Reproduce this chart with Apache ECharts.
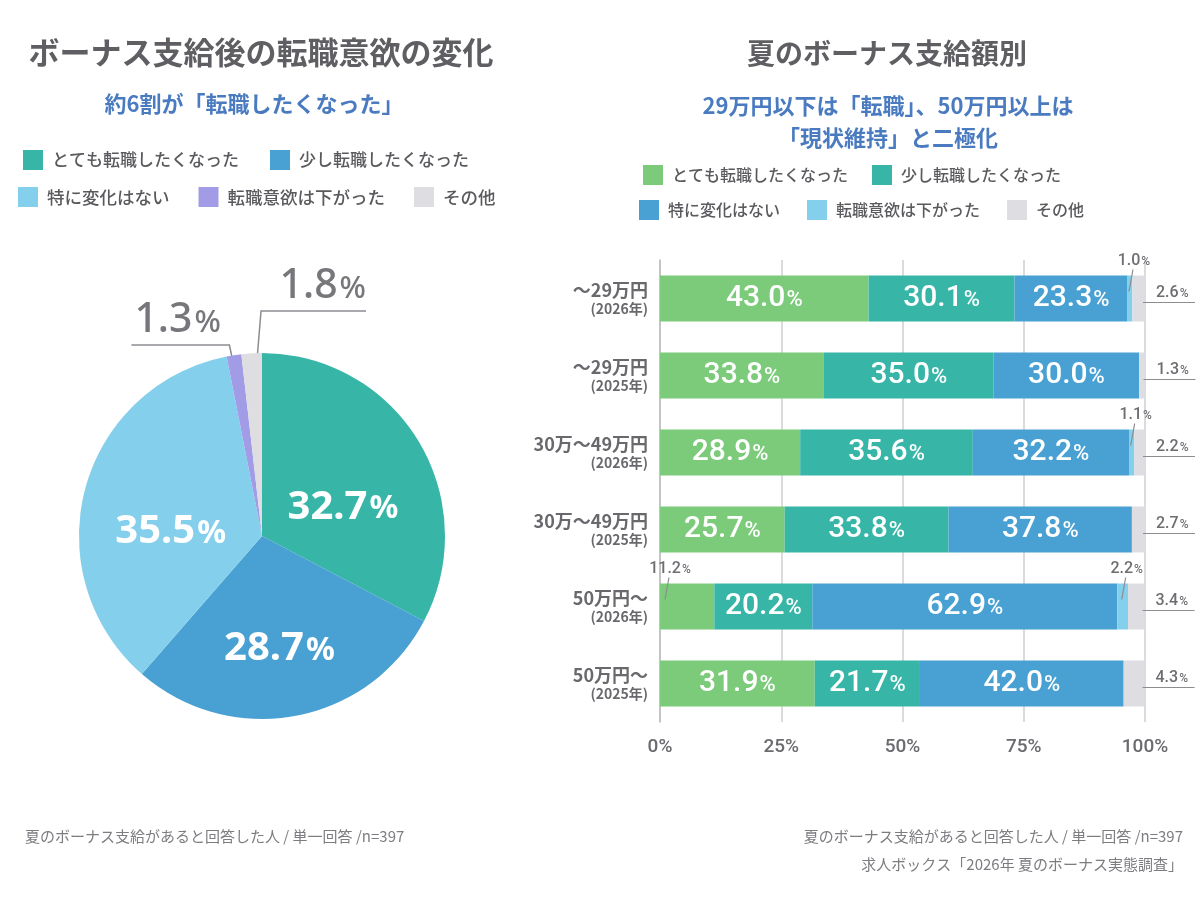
<!DOCTYPE html>
<html>
<head>
<meta charset="utf-8">
<script src="https://cdn.jsdelivr.net/npm/echarts@6/dist/echarts.min.js"></script>
<style>
  html, body { margin: 0; padding: 0; background: #fff; }
  #main { width: 1200px; height: 900px; }
</style>
</head>
<body>
<div id="main"></div>
<script type="text/javascript">
// 回答の区分
var answerNames = ['とても転職したくなった', '少し転職したくなった', '特に変化はない', '転職意欲は下がった', 'その他'];

// 左：全体（円グラフ）
var pieValues = [32.7, 28.7, 35.5, 1.3, 1.8];
var pieColors = ['#37b6a8', '#48a1d2', '#84cfeb', '#a29ce6', '#dedde2'];

// 右：支給額別（帯グラフ）
var rangeLabels = ['～29万円', '～29万円', '30万～49万円', '30万～49万円', '50万円～', '50万円～'];
var yearLabels = ['(2026年)', '(2025年)', '(2026年)', '(2025年)', '(2026年)', '(2025年)'];
var veryValues   = [43.0, 33.8, 28.9, 25.7, 11.2, 31.9];
var littleValues = [30.1, 35.0, 35.6, 33.8, 20.2, 21.7];
var noneValues   = [23.3, 30.0, 32.2, 37.8, 62.9, 42.0];
var downValues   = [1.0, 0, 1.1, 0, 2.2, 0];
var otherValues  = [2.6, 1.3, 2.2, 2.7, 3.4, 4.3];
var barColors = ['#7ccb7b', '#37b6a8', '#48a1d2', '#84cfeb', '#dedde2'];
var xTicks = [0, 25, 50, 75, 100];

var JP = '"Noto Sans CJK JP", "Noto Sans", sans-serif';
var NUM = 'Roboto, "Noto Sans", sans-serif';
var GRAY = '#5f5f63';
var LABEL_GRAY = '#6e6d72';
var LINE_GRAY = '#8d8c91';

var myChart = echarts.init(document.getElementById('main'));

// 円グラフの位置
var PIE_CX = 262, PIE_CY = 536, PIE_R = 183;

// 円グラフのラベル
function pieLabel(v) {
	if (v >= 5) {
		return {
			show: true, position: 'inside',
			formatter: '{n|' + v.toFixed(1) + '}{p|%}',
			rich: {
				n: { fontFamily: '"Noto Sans", sans-serif', fontSize: 40, fontWeight: 'bold', color: '#fff' },
				p: { fontFamily: '"Noto Sans", sans-serif', fontSize: 32, fontWeight: 'bold', color: '#fff', padding: [4, 0, 0, 2] }
			}
		};
	}
	return {
		show: true, position: 'outside',
		formatter: '{n|' + v.toFixed(1) + '}{p|%}',
		rich: {
			n: { fontFamily: '"Noto Sans", sans-serif', fontSize: 41, fontWeight: 500, color: '#77767b' },
			p: { fontFamily: '"Noto Sans", sans-serif', fontSize: 31, fontWeight: 500, color: '#77767b', padding: [6, 0, 0, 2] }
		}
	};
}

var pieData = pieValues.map(function (v, i) {
	return {
		name: answerNames[i],
		value: v,
		itemStyle: { color: pieColors[i] },
		label: pieLabel(v),
		labelLine: { show: v < 5 }
	};
});

function pieLabelLayout(params) {
	var i = params.dataIndex;
	var v = pieValues[i];
	if (v >= 5) return { dy: 20 };
	var total = 0, start = 0, smallOrder = 0;
	pieValues.forEach(function (x, k) {
		total += x;
		if (k < i) start += x;
		if (k < i && x < 5) smallOrder++;
	});
	var theta = (start + v / 2) / total * Math.PI * 2;
	var r = PIE_R * 0.77;
	var ax = PIE_CX + r * Math.sin(theta);
	var ay = PIE_CY - r * Math.cos(theta);
	if (smallOrder % 2 === 0) {
		// 左へ
		var ex = ax - 11, ey = PIE_CY - PIE_R - 8;
		return {
			x: ex - 95, y: ey - 4, align: 'left', verticalAlign: 'bottom',
			labelLinePoints: [[ax, ay], [ex, ey], [ex - 98, ey]]
		};
	}
	var gx = ax + 7, gy = PIE_CY - PIE_R - 42;
	return {
		x: gx + 105, y: gy - 4, align: 'right', verticalAlign: 'bottom',
		labelLinePoints: [[ax, ay], [gx, gy], [gx + 105, gy]]
	};
}

// 帯グラフのラベル（幅の広い区分だけ帯の中）
var INSIDE_MIN = 15;
var BAR_W = 46;
function barLabel(v) {
	if (v < INSIDE_MIN) return { show: false };
	return {
		show: true, position: 'inside',
		formatter: '{n|' + v.toFixed(1) + '}{p|%}',
		rich: {
			n: { fontFamily: NUM, fontSize: 30, fontWeight: 500, color: '#fff' },
			p: { fontFamily: NUM, fontSize: 22, fontWeight: 500, color: '#fff', padding: [3, 0, 0, 1] }
		}
	};
}

var seriesValues = [veryValues, littleValues, noneValues, downValues, otherValues];
var barSeriesList = seriesValues.map(function (values, idx) {
	return {
		name: answerNames[idx],
		type: 'bar',
		stack: 'total',
		barWidth: BAR_W,
		itemStyle: { color: barColors[idx] },
		data: values.map(function (v) { return { value: v, label: barLabel(v) }; })
	};
});

// 細い区分の外側ラベルと引き出し線
var smallRich = {
	n: { fontFamily: NUM, fontSize: 16, fontWeight: 500, fill: LABEL_GRAY },
	p: { fontFamily: NUM, fontSize: 12, fontWeight: 500, fill: LABEL_GRAY, padding: [2, 0, 0, 1] }
};
var calloutSeries = {
	type: 'custom',
	name: 'callouts',
	coordinateSystem: 'cartesian2d',
	clip: false,
	silent: true,
	z: 5,
	encode: { x: 0, y: 1 },
	data: rangeLabels.map(function (_, i) { return [0, i]; }),
	renderItem: function (params, api) {
		var row = api.value(1);
		var children = [];
		var cum = 0;
		var last = seriesValues.length - 1;
		seriesValues.forEach(function (vals, k) {
			var v = vals[row];
			var s = cum, e = cum + v;
			cum = e;
			if (!(v > 0 && v < INSIDE_MIN)) return;
			var ps = api.coord([s, row]);
			var pe = api.coord([e, row]);
			var cy = ps[1];
			var text = '{n|' + v.toFixed(1) + '}{p|%}';
			if (k === last) {
				var ly = cy + 4;
				children.push({ type: 'line', shape: { x1: pe[0] - 2, y1: ly, x2: pe[0] + 50, y2: ly },
					style: { stroke: LINE_GRAY, lineWidth: 1.2 } });
				children.push({ type: 'text', style: { x: pe[0] + 11, y: ly - 2, text: text, rich: smallRich,
					fill: LABEL_GRAY, align: 'left', verticalAlign: 'bottom' } });
			} else {
				var top = cy - BAR_W / 2;
				var lx = ps[0] + Math.min((pe[0] - ps[0]) / 2, 6) + 4;
				children.push({ type: 'line', shape: { x1: lx - 1, y1: top - 6, x2: lx - 5, y2: top + 16 },
					style: { stroke: LINE_GRAY, lineWidth: 1.2 } });
				children.push({ type: 'text', style: { x: lx, y: top - 7, text: text, rich: smallRich,
					fill: LABEL_GRAY, align: 'center', verticalAlign: 'bottom' } });
			}
		});
		return { type: 'group', children: children };
	}
};

function legendItems(idxs, colors) {
	return idxs.map(function (i) { return { name: answerNames[i], itemStyle: { color: colors[i] } }; });
}

function makeLegend(left, top, gap, size, idxs, colors) {
	return {
		left: left, top: top, itemGap: gap, padding: 0,
		orient: 'horizontal', icon: 'rect', itemWidth: 20, itemHeight: 20,
		selectedMode: false,
		data: legendItems(idxs, colors),
		textStyle: { fontFamily: JP, fontSize: size, fontWeight: 500, color: '#5a5a5e', padding: [0, 0, 0, 4] }
	};
}

var option = {
	backgroundColor: '#fff',
	animation: false,
	title: [
		{ text: 'ボーナス支給後の転職意欲の変化', left: 256, top: 32, textAlign: 'center',
		  textStyle: { fontFamily: JP, fontSize: 31, fontWeight: 'bold', color: GRAY } },
		{ text: '約6割が「転職したくなった」', left: 249, top: 88, textAlign: 'center',
		  textStyle: { fontFamily: JP, fontSize: 22, fontWeight: 'bold', color: '#4a7bc0' } },
		{ text: '夏のボーナス支給額別', left: 882, top: 34, textAlign: 'center',
		  textStyle: { fontFamily: JP, fontSize: 28, fontWeight: 'bold', color: GRAY } },
		{ text: '29万円以下は「転職」、50万円以上は\n「現状維持」と二極化', left: 883, top: 85, textAlign: 'center',
		  textStyle: { fontFamily: JP, fontSize: 22, fontWeight: 'bold', color: '#4a7bc0', lineHeight: 32, align: 'center' } },
		{ text: '夏のボーナス支給があると回答した人 / 単一回答 /n=397', left: 20, top: 824,
		  textStyle: { fontFamily: JP, fontSize: 15, fontWeight: 'normal', color: '#7d7c81' } },
		{ text: '夏のボーナス支給があると回答した人 / 単一回答 /n=397', right: 12, top: 824,
		  textStyle: { fontFamily: JP, fontSize: 15, fontWeight: 'normal', color: '#7d7c81' } },
		{ text: '求人ボックス「2026年 夏のボーナス実態調査」', right: 12, top: 852,
		  textStyle: { fontFamily: JP, fontSize: 15, fontWeight: 'normal', color: '#7d7c81' } }
	],
	legend: [
		makeLegend(23, 150, 31, 17, [0, 1], pieColors),
		makeLegend(18, 187, 29, 17.5, [2, 3, 4], pieColors),
		makeLegend(643, 165, 24, 16, [0, 1], barColors),
		makeLegend(639, 200, 27, 16, [2, 3, 4], barColors)
	],
	grid: { left: 660, right: 55, top: 260, bottom: 178 },
	xAxis: {
		type: 'value', min: xTicks[0], max: xTicks[xTicks.length - 1], interval: 25,
		axisLine: { show: false },
		axisTick: { show: false },
		splitLine: { show: true, lineStyle: { color: '#cfcfd3', width: 1.5 } },
		axisLabel: {
			margin: 16, fontFamily: NUM, fontSize: 19, fontWeight: 500, color: '#6b6a6f',
			formatter: '{value}%'
		}
	},
	yAxis: {
		type: 'category', inverse: true,
		data: rangeLabels.map(function (r, i) { return r + '\n' + yearLabels[i]; }),
		axisLine: { show: true, lineStyle: { color: '#bdbcc1', width: 1.5 } },
		axisTick: { show: false },
		axisLabel: {
			margin: 12, align: 'right',
			formatter: function (val) {
				var parts = val.split('\n');
				return '{a|' + parts[0] + '}\n{b|' + parts[1] + '}';
			},
			rich: {
				a: { fontFamily: JP, fontSize: 18, fontWeight: 'bold', color: '#69686d', lineHeight: 20, align: 'right' },
				b: { fontFamily: JP, fontSize: 14, fontWeight: 'bold', color: '#69686d', lineHeight: 17, align: 'right' }
			}
		}
	},
	series: [{
		name: '転職意欲の変化',
		type: 'pie',
		center: [PIE_CX, PIE_CY],
		radius: [0, PIE_R],
		startAngle: 90,
		clockwise: true,
		avoidLabelOverlap: false,
		labelLine: { show: true, lineStyle: { color: LINE_GRAY, width: 1.5 }, length: 20, length2: 60 },
		labelLayout: pieLabelLayout,
		data: pieData
	}].concat(barSeriesList, [calloutSeries])
};

myChart.setOption(option);
</script>
</body>
</html>
